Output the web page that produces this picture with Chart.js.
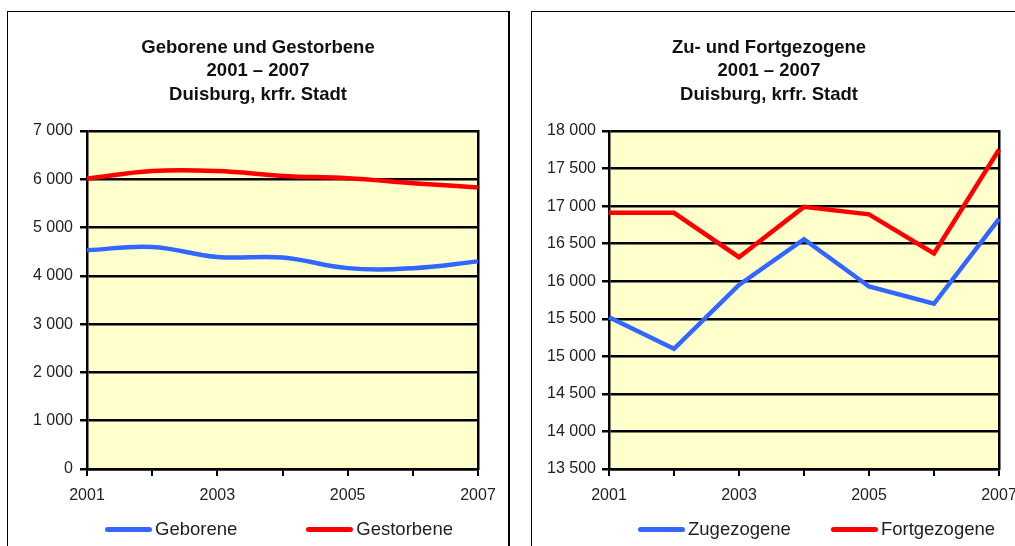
<!DOCTYPE html>
<html>
<head>
<meta charset="utf-8">
<script src="https://cdn.jsdelivr.net/npm/chart.js@4"></script>
<style>
    body { margin: 0; width: 1015px; height: 546px; overflow: hidden; background: #fff; font-family: "Liberation Sans", Arial, sans-serif; position: relative; }
    .box { position: absolute; top: 11px; height: 560px; border: 1px solid #000; box-sizing: border-box; }
    #box-left { left: 7px; width: 503px; border-right: 2px solid #000; }
    #box-right { left: 531px; width: 500px; }
    canvas { position: absolute; }
    .legend { position: absolute; top: 518px; height: 22px; display: flex; align-items: center; font-size: 18.5px; color: #222; white-space: nowrap; }
    .legend .item { display: flex; align-items: center; }
    .legend .swatch { width: 47px; height: 5px; border-radius: 3px; margin-right: 3px; }
</style>
</head>
<body>
<div class="box" id="box-left"></div>
<div class="box" id="box-right"></div>
<canvas id="chart-left"></canvas>
<canvas id="chart-right"></canvas>
<div class="legend" id="legend-left" style="left:105px"></div>
<div class="legend" id="legend-right" style="left:638px"></div>

<script>
// data
const years = ['2001', '2002', '2003', '2004', '2005', '2006', '2007'];
const geborene = [4530, 4600, 4390, 4380, 4160, 4160, 4300];
const gestorbene = [6010, 6170, 6170, 6070, 6020, 5920, 5830];
const zugezogene = [15520, 15100, 15950, 16560, 15930, 15700, 16830];
const fortgezogene = [16910, 16910, 16320, 16990, 16890, 16370, 17750];

const titleLeft = ['Geborene und Gestorbene', '2001 – 2007', 'Duisburg, krfr. Stadt'];
const titleRight = ['Zu- und Fortgezogene', '2001 – 2007', 'Duisburg, krfr. Stadt'];

const BLUE = '#3366ff';
const RED = '#ff0000';
const FONT = '"Liberation Sans", Arial, sans-serif';

Chart.defaults.font.family = FONT;
Chart.defaults.color = '#222';

const fmt = v => String(v).replace(/\B(?=(\d{3})+(?!\d))/g, ' ');

// pale yellow plot background
const plotBg = {
    id: 'plotBg',
    beforeDraw(chart) {
        const { ctx, chartArea: a } = chart;
        ctx.save();
        ctx.fillStyle = '#ffffcc';
        ctx.fillRect(a.left, a.top, a.right - a.left, a.bottom - a.top);
        ctx.restore();
    }
};

const makeChart = (id, pos, titleLines, series, yMin, yMax, yStep, cfg) => {
    const canvas = document.getElementById(id);
    canvas.style.left = pos.left + 'px';
    canvas.style.top = pos.top + 'px';
    canvas.style.width = pos.width + 'px';
    canvas.style.height = pos.height + 'px';
    canvas.width = pos.width;
    canvas.height = pos.height;

    return new Chart(canvas, {
        type: 'line',
        data: {
            labels: years,
            datasets: series.map(s => ({
                label: s.label,
                data: s.data,
                borderColor: s.color,
                backgroundColor: s.color,
                borderWidth: 4.5,
                pointRadius: 0,
                tension: cfg.smooth ? 0.4 : 0,
                fill: false,
                yAxisID: 'y'
            }))
        },
        options: {
            responsive: false,
            animation: false,
            layout: { padding: { left: 0, top: 0, bottom: 0, right: cfg.padRight } },
            plugins: {
                legend: { display: false },
                tooltip: { enabled: false },
                title: {
                    display: true,
                    text: titleLines,
                    color: '#111',
                    font: { size: 18.5, weight: 'bold', lineHeight: '23.6px' },
                    padding: { top: 25, bottom: 24.2 }
                }
            },
            scales: {
                x: {
                    type: 'category',
                    offset: false,
                    grid: { drawOnChartArea: false, drawTicks: true, tickLength: 7, color: '#000', lineWidth: 2 },
                    border: { display: true, color: '#000', width: 2.5 },
                    ticks: {
                        autoSkip: false,
                        maxRotation: 0,
                        padding: 10,
                        font: { size: 16 },
                        callback: (v, i) => (i % 2 === 0 ? years[i] : '')
                    },
                    afterFit: scale => {
                        scale.height = pos.height - 458;
                        if (cfg.noLabelPad) scale.paddingRight = 0;
                    }
                },
                y: {
                    min: yMin,
                    max: yMax,
                    grid: { color: '#000', lineWidth: 2.5, tickLength: 7 },
                    border: { display: true, color: '#000', width: 2.5 },
                    ticks: { stepSize: yStep, padding: cfg.labelPad, font: { size: 16 }, callback: v => fmt(v) },
                    afterFit: scale => { scale.width = cfg.yWidth; }
                },
                y2: {
                    position: 'right',
                    min: yMin,
                    max: yMax,
                    grid: { drawOnChartArea: false, drawTicks: false },
                    border: { display: true, color: '#000', width: 2.5 },
                    ticks: { display: false },
                    afterFit: scale => { scale.width = cfg.rightWidth; }
                }
            }
        },
        plugins: [plotBg]
    });
};

const makeLegend = (id, series, gap) => {
    const el = document.getElementById(id);
    series.forEach((s, i) => {
        const item = document.createElement('div');
        item.className = 'item';
        if (i > 0) item.style.marginLeft = gap + 'px';
        const sw = document.createElement('span');
        sw.className = 'swatch';
        sw.style.background = s.color;
        const txt = document.createElement('span');
        txt.textContent = s.label;
        item.appendChild(sw);
        item.appendChild(txt);
        el.appendChild(item);
    });
};

const leftSeries = [
    { label: 'Geborene', data: geborene, color: BLUE },
    { label: 'Gestorbene', data: gestorbene, color: RED }
];
const rightSeries = [
    { label: 'Zugezogene', data: zugezogene, color: BLUE },
    { label: 'Fortgezogene', data: fortgezogene, color: RED }
];

makeChart('chart-left', { left: 8, top: 11, width: 500, height: 535 }, titleLeft, leftSeries, 0, 7000, 1000,
    { yWidth: 79, rightWidth: 30, padRight: 0, labelPad: 7, smooth: true, noLabelPad: false });
makeChart('chart-right', { left: 532, top: 11, width: 483, height: 535 }, titleRight, rightSeries, 13500, 18000, 500,
    { yWidth: 77, rightWidth: 7, padRight: 9, labelPad: 6, smooth: false, noLabelPad: true });

makeLegend('legend-left', leftSeries, 69);
makeLegend('legend-right', rightSeries, 40);
</script>
</body>
</html>
